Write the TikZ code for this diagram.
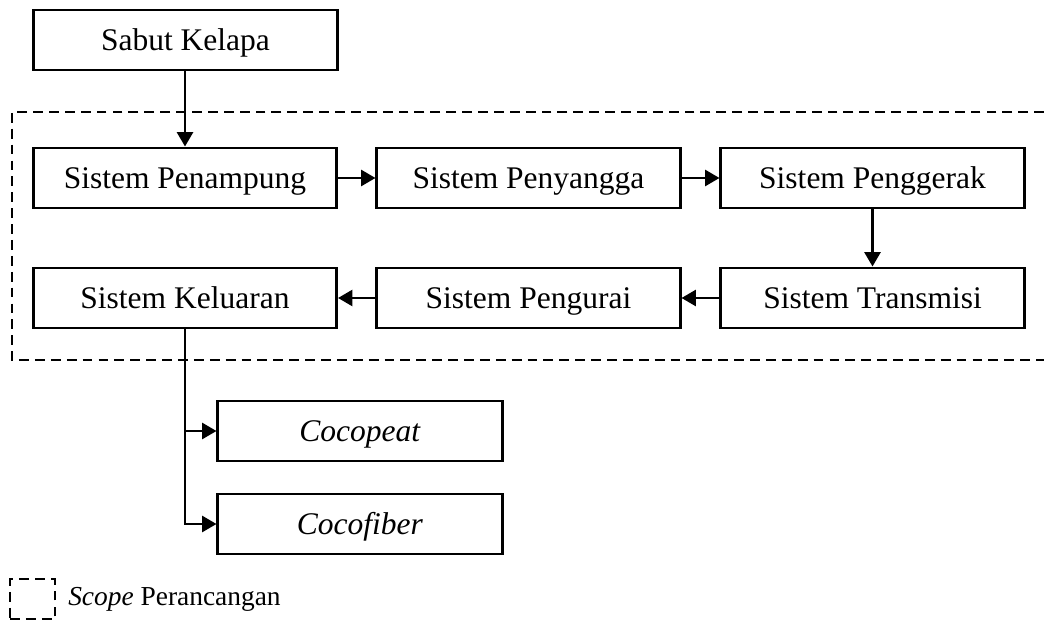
\documentclass[tikz,border=0pt]{standalone}
\usepackage{fontspec}
\setmainfont{Liberation Serif}
\usetikzlibrary{arrows.meta}
\tikzstyle{block}=[draw, line width=2.1pt, minimum width=7.575cm, minimum height=1.5cm, inner sep=0, text height=14.8pt, text depth=0pt, font=\fontsize{22.4}{27}\selectfont]
\tikzstyle{product}=[block, minimum width=7.1cm]
\tikzstyle{flow}=[line width=1.9pt, -{Triangle[length=0.36cm, width=0.4cm]}]
\tikzstyle{scope line}=[line width=1.8pt, dash pattern=on 7pt off 4.3pt]

\begin{document}
\begin{tikzpicture}[x=0.025cm, y=-0.025cm]
          \useasboundingbox (0, 0) rectangle (1044, 622);
          \node[block] (sabut) at (185.5, 40) {Sabut Kelapa};
          \node[block] (penampung) at (185, 178) {Sistem Penampung};
          \node[block] (penyangga) at (528.5, 178) {Sistem Penyangga};
          \node[block] (penggerak) at (872.5, 178) {Sistem Penggerak};
          \node[block] (transmisi) at (872.5, 298) {Sistem Transmisi};
          \node[block] (pengurai) at (528.5, 298) {Sistem Pengurai};
          \node[block] (keluaran) at (185, 298) {Sistem Keluaran};
          \node[product] (cocopeat) at (360, 431) {\textit{Cocopeat}};
          \node[product] (cocofiber) at (360, 524) {\textit{Cocofiber}};

          % batas perancangan
          \draw[scope line] (1044, 112) -- (12, 112) -- (12, 360) -- (1044, 360);

          \draw[flow] (sabut.south -| penampung) -- (penampung);
          \draw[flow] (penampung) -- (penyangga);
          \draw[flow] (penyangga) -- (penggerak);
          \draw[flow] (penggerak) -- (transmisi);
          \draw[flow] (transmisi) -- (pengurai);
          \draw[flow] (pengurai) -- (keluaran);
          \draw[flow] (keluaran.south) |- (cocofiber.west);
          \draw[flow] (keluaran.south |- cocopeat.west) -- (cocopeat.west);

          % keterangan
          \node[scope line, draw, minimum width=1.125cm, minimum height=1cm] (legend) at (32.5, 599) {};
          \node[anchor=west, inner sep=0, font=\fontsize{19.5}{24}\selectfont] (legend text) at (68, 599) {\textit{Scope} Perancangan};
        \end{tikzpicture}
\end{document}
